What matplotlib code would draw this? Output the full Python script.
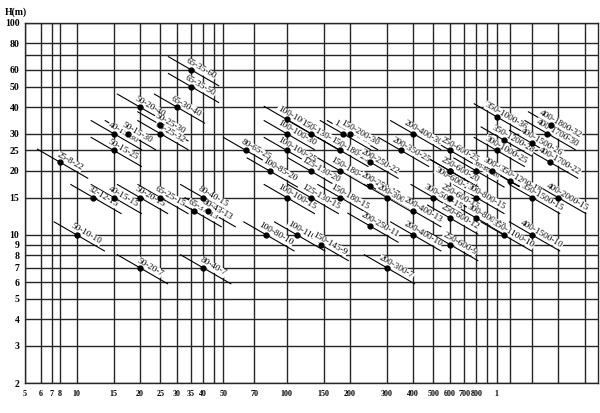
import numpy as np
import matplotlib
matplotlib.use("Agg")
import matplotlib.pyplot as plt

# pump models: label, flow Q (m3/h), head H (m)
labels = ["25-8-22", "32-12-15", "40-15-15", "50-20-15", "65-25-15", "50-10-10",
          "50-20-7", "50-15-25", "40-15-30", "50-15-30", "50-20-40", "50-25-30",
          "65-25-32", "65-30-40", "65-35-50", "65-35-60", "65-37-13", "80-40-15",
          "80-43-13", "80-40-7", "80-65-25", "100-100-35", "100-100-30", "100-100-25",
          "150-130-30", "150-180-30", "150-200-30", "150-180-25", "200-250-22",
          "100-85-20", "125-130-20", "150-180-20", "200-250-17", "100-100-15",
          "125-130-15", "150-180-15", "200-300-15", "100-80-10", "100-110-10",
          "150-145-9", "200-250-11", "200-300-7", "200-400-30", "200-350-25",
          "250-600-25", "250-600-20", "300-600-20", "300-800-20", "300-950-20",
          "350-1000-36", "400-1800-32", "400-1700-30", "350-1200-28", "400-1500-26",
          "300-1000-25", "400-1700-22", "350-1200-18", "400-2000-15", "350-1500-15",
          "300-800-15", "250-600-15", "300-500-15", "200-400-13", "250-600-12",
          "300-800-12", "350-1100-10", "400-1500-10", "200-400-10", "250-600-9"]
flow = [8, 12, 15, 20, 25, 10,
        20, 15, 15, 17.5, 20, 25,
        25, 30, 35, 35, 36, 40,
        42, 40, 64, 100, 100, 100,
        130, 185, 200, 180, 250,
        83, 130, 180, 250, 100,
        130, 180, 300, 80, 112,
        145, 250, 300, 400, 350,
        600, 600, 600, 800, 950,
        1000, 1850, 1780, 1100, 1500,
        1000, 1830, 1200, 2000, 1500,
        800, 600, 500, 400, 600,
        800, 1100, 1500, 400, 600]
head = [22, 15, 15, 15, 15, 10,
        7, 25, 30, 30, 40, 33,
        30, 40, 50, 60, 13, 15,
        13, 7, 25, 35, 30, 25,
        30, 30, 30, 25, 22,
        20, 20, 20, 17, 15,
        15, 15, 15, 10, 10,
        9, 11, 7, 30, 25,
        25, 20, 20, 20, 20,
        36, 33, 30, 28, 27,
        25, 22, 18, 15, 15,
        15, 15, 15, 13, 12,
        12, 10, 10, 10, 9]

x_ticks = [5, 6, 7, 8, 10, 15, 20, 25, 30, 35, 40, 50, 70, 100, 150, 200,
           300, 400, 500, 600, 700, 800, 1000]
x_ticklabels = ["5", "6", "7", "8", "10", "15", "20", "25", "30", "35", "40", "50",
                "70", "100", "150", "200", "300", "400", "500", "600", "700", "800", "1"]
x_minor = [45, 900, 1200, 1500, 2000, 2500]
y_ticks = [2, 3, 4, 5, 6, 7, 8, 9, 10, 15, 20, 25, 30, 40, 50, 60, 80, 100]
y_minor = [70]

# the printed x axis is not a clean log scale below 10 and above 1000
x_ref = [1, 5, 6, 7, 8, 10, 1000, 1200, 1500, 2000, 2500, 3000, 1e5]
x_ref_pos = [-121.8, 25, 41, 51.7, 60, 76.7, 496.7, 510, 532, 558, 585, 598, 917.8]
lx_ref = np.log10(x_ref)


def fwd(v):
    v = np.clip(np.asarray(v, dtype=float), 1e-9, None)
    return np.interp(np.log10(v), lx_ref, x_ref_pos)


def inv(p):
    return 10 ** np.interp(np.asarray(p, dtype=float), x_ref_pos, lx_ref)


serif = "Liberation Serif"
fig = plt.figure(figsize=(6, 4.13), dpi=100)
ax = fig.add_axes([25 / 600, 29.7 / 413, 573 / 600, 360.7 / 413])
ax.set_xscale("function", functions=(fwd, inv))
ax.set_yscale("log")
ax.set_xlim(5, 3000)
ax.set_ylim(2, 100)

ax.set_xticks(x_ticks)
ax.set_xticklabels(x_ticklabels)
ax.set_xticks(x_minor, minor=True)
ax.set_yticks(y_ticks)
ax.set_yticklabels([str(t) for t in y_ticks])
ax.set_yticks(y_minor, minor=True)
ax.yaxis.set_minor_formatter(matplotlib.ticker.NullFormatter())
ax.xaxis.set_minor_formatter(matplotlib.ticker.NullFormatter())
ax.tick_params(which="both", length=0)
ax.tick_params(axis="x", pad=5)
ax.tick_params(axis="y", pad=4)
for lab in ax.get_xticklabels():
    lab.set_fontfamily(serif)
    lab.set_fontweight("bold")
    lab.set_fontsize(5.8)
for lab in ax.get_yticklabels():
    lab.set_fontfamily(serif)
    lab.set_fontweight("bold")
    lab.set_fontsize(7)
ax.grid(which="both", color="#262626", lw=1.0, zorder=1)
for s in ax.spines.values():
    s.set_color("#262626")
    s.set_lw(1.0)

fig.text(5 / 600, 1 - 12 / 413, "H(m)", family=serif, weight="bold", fontsize=7,
         va="center")

ang = np.deg2rad(-30)
d = np.array([np.cos(ang), np.sin(ang)])
n = np.array([-np.sin(ang), np.cos(ang)])
to_data = ax.transData.inverted()

for lab, q, h in zip(labels, flow, head):
    p = ax.transData.transform((q, h))
    a = to_data.transform(p - 26 * d)
    b = to_data.transform(p + 32 * d)
    ax.plot([a[0], b[0]], [a[1], b[1]], color="black", lw=0.8, zorder=2)
    side = -1 if lab == "300-600-20" else 1
    size = 4.5 if lab == "300-800-20" else 6.6
    t = to_data.transform(p + 8 * d + side * 5.5 * n)
    ax.text(t[0], t[1], lab, rotation=-30, rotation_mode="anchor", ha="center",
            va="center", family=serif, fontsize=size, zorder=3,
            bbox=dict(fc="white", ec="none", pad=0.2))
    ax.plot(q, h, "o", color="black", ms=3.5, zorder=4)

fig.savefig("out.png", dpi=100)
